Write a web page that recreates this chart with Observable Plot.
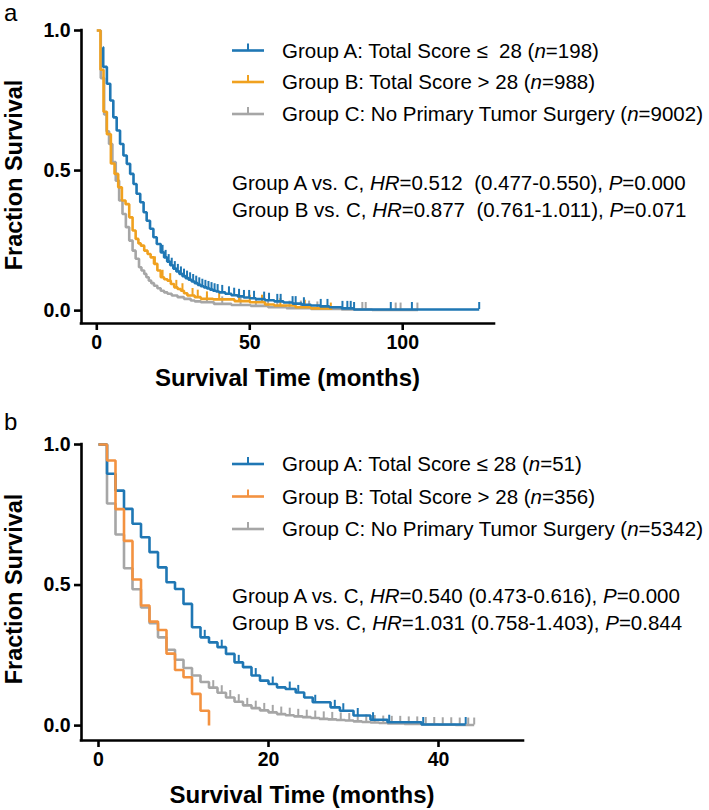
<!DOCTYPE html>
<html>
<head>
<meta charset="utf-8">
<script src="https://cdn.jsdelivr.net/npm/d3@7"></script>
<script src="https://cdn.jsdelivr.net/npm/@observablehq/plot@0.6"></script>
<style>
  html, body { margin: 0; padding: 0; background: #fff; }
  #wrap { position: relative; width: 709px; height: 810px; background: #fff; overflow: hidden; }
  #wrap > svg { position: absolute; left: 0; }
  .axis-text text { font-size: 19.5px; font-weight: bold; }
</style>
</head>
<body>
<div id="wrap"></div>
<script>
// ---------------- Panel a data ----------------
const aTimesA = [2, 2.1, 3.3, 4.4, 5.4, 6.5, 7.6, 8.7, 9.8, 10.9, 12, 13, 14.2, 15.3, 16.3, 17.4, 18.5, 19.6, 20.9, 22, 23, 24, 25, 26, 27, 28, 29, 30, 31, 32, 33, 34, 35, 36, 37, 38, 39, 40, 42, 44, 46, 48, 50, 52, 55, 58, 61, 64, 67, 70, 73, 76, 80, 84, 125];
const aSurvA  = [0.94, 0.87, 0.81, 0.75, 0.69, 0.643, 0.595, 0.554, 0.524, 0.488, 0.452, 0.417, 0.387, 0.351, 0.321, 0.292, 0.262, 0.238, 0.208, 0.19, 0.175, 0.162, 0.15, 0.14, 0.131, 0.123, 0.116, 0.11, 0.104, 0.098, 0.092, 0.087, 0.083, 0.079, 0.075, 0.071, 0.068, 0.065, 0.06, 0.055, 0.051, 0.047, 0.044, 0.041, 0.037, 0.033, 0.029, 0.025, 0.021, 0.018, 0.015, 0.012, 0.008, 0.004, 0.004];
const aCensA  = [21.5, 22.5, 23.5, 24.5, 25.5, 26.5, 27.5, 28.5, 29.5, 30.5, 31.5, 32.5, 33.5, 34.5, 35.5, 36.5, 37.5, 38.5, 39.5, 41, 43.2, 44.9, 46.5, 48.1, 49.8, 51.4, 54.7, 56.3, 59, 60.1, 64, 65, 67.7, 73.2, 75.4, 80.3, 81.9, 83, 84.1, 96.1, 103, 125];

const aTimesB = [0, 1.2, 2.2, 3.3, 4.6, 5.8, 7, 8.2, 9.4, 10.6, 11.7, 12.7, 13.6, 14.4, 15.5, 16.6, 17.6, 18.7, 19.8, 20.9, 22, 23.1, 24.2, 25.3, 26.4, 27.5, 28.5, 29.6, 32, 34, 38, 45, 50, 55, 58, 65, 70, 76.5];
const aSurvB  = [1, 0.86, 0.71, 0.63, 0.525, 0.488, 0.44, 0.393, 0.38, 0.333, 0.286, 0.256, 0.24, 0.232, 0.214, 0.202, 0.19, 0.167, 0.143, 0.119, 0.112, 0.107, 0.095, 0.083, 0.077, 0.071, 0.062, 0.054, 0.048, 0.042, 0.04, 0.034, 0.03, 0.022, 0.018, 0.012, 0.008, 0.002];
const aCensB  = [19, 21.5, 24, 26, 28, 31.3, 33, 36, 40, 46.5, 50, 54, 60, 68, 76.5];

const aTimesC = [0, 1.3, 2.4, 3.2, 4.0, 5.1, 6.2, 7.3, 8.4, 9.5, 10.6, 11.7, 12.7, 13.8, 14.6, 15.5, 16.2, 17, 17.8, 18.7, 19.8, 20.9, 22, 23.1, 24.5, 26.4, 28.5, 30.7, 32, 34, 38.3, 44, 50.3, 56, 62, 70, 80, 90, 105];
const aSurvC  = [1, 0.83, 0.70, 0.64, 0.595, 0.53, 0.464, 0.393, 0.345, 0.298, 0.25, 0.214, 0.185, 0.155, 0.143, 0.131, 0.119, 0.107, 0.098, 0.089, 0.08, 0.071, 0.065, 0.06, 0.054, 0.048, 0.042, 0.036, 0.033, 0.03, 0.024, 0.02, 0.017, 0.012, 0.009, 0.006, 0.004, 0.002, 0.002];
const aCensC  = [36, 41, 47, 52, 56, 59, 63, 66.7, 69.4, 72.1, 86.8, 87.9, 97.7, 99.3, 104.8];

const aXTicks = [0, 50, 100];
const aYTicks = [0, 0.5, 1];
const aLegend = [
  ["Group A: Total Score ≤  28 (", "n", "=198)"],
  ["Group B: Total Score > 28 (", "n", "=988)"],
  ["Group C: No Primary Tumor Surgery (", "n", "=9002)"]
];
const aStats = [
  ["Group A vs. C, ", "HR", "=0.512  (0.477-0.550), ", "P", "=0.000"],
  ["Group B vs. C, ", "HR", "=0.877  (0.761-1.011), ", "P", "=0.071"]
];

// ---------------- Panel b data ----------------
const bTimesA = [0, 1, 2, 3, 4, 5, 6, 7, 8, 9, 10, 11, 12, 13, 14, 15, 16, 17, 18, 19, 20, 21, 22, 23.2, 24.2, 25.2, 27.3, 28.4, 30, 32, 34, 38, 43.2];
const bSurvA  = [1, 0.896, 0.836, 0.771, 0.718, 0.67, 0.617, 0.563, 0.51, 0.486, 0.433, 0.35, 0.314, 0.296, 0.279, 0.255, 0.225, 0.208, 0.178, 0.16, 0.148, 0.136, 0.13, 0.118, 0.1, 0.083, 0.065, 0.053, 0.036, 0.021, 0.012, 0.004, 0.004];
const bCensA  = [12.5, 14.5, 16.5, 18.5, 20.5, 22.5, 23.5, 25.5, 27.8, 28.8, 30.5, 32.3, 34.2, 38.2, 43.2];

const bTimesB = [0, 1, 2, 3, 4, 5, 6, 7, 8, 9, 10, 11, 12, 13];
const bSurvB  = [1, 0.943, 0.77, 0.657, 0.52, 0.427, 0.37, 0.34, 0.256, 0.198, 0.172, 0.113, 0.053, 0];
const bCensB  = [];

const bTimesC = [0, 1, 2, 3, 4, 5, 6, 7, 8, 9, 10, 11, 12, 13, 14, 15, 16, 17, 18, 19, 20, 21, 22, 23, 24, 25, 26, 27, 28, 29, 30, 31, 32, 33, 34, 36, 38, 40, 42, 44.2];
const bSurvC  = [1, 0.79, 0.68, 0.56, 0.485, 0.42, 0.364, 0.314, 0.27, 0.234, 0.205, 0.178, 0.155, 0.135, 0.117, 0.1, 0.085, 0.072, 0.062, 0.054, 0.047, 0.041, 0.037, 0.033, 0.03, 0.027, 0.024, 0.022, 0.02, 0.018, 0.015, 0.013, 0.011, 0.009, 0.008, 0.006, 0.004, 0.003, 0.002, 0.002];
const bCensC  = [13.5, 14.5, 15.5, 16.5, 17.5, 18.5, 19.5, 20.5, 21.5, 22.5, 23.5, 24.5, 25.5, 26.5, 27.5, 28.5, 29.5, 30.5, 31.5, 32.5, 33.5, 34.5, 35.5, 36.5, 37.5, 38.5, 39.5, 40.5, 41.5, 42.5, 43.5, 44.2];

const bXTicks = [0, 20, 40];
const bYTicks = [0, 0.5, 1];
const bLegend = [
  ["Group A: Total Score ≤ 28 (", "n", "=51)"],
  ["Group B: Total Score > 28 (", "n", "=356)"],
  ["Group C: No Primary Tumor Surgery (", "n", "=5342)"]
];
const bStats = [
  ["Group A vs. C, ", "HR", "=0.540 (0.473-0.616), ", "P", "=0.000"],
  ["Group B vs. C, ", "HR", "=1.031 (0.758-1.403), ", "P", "=0.844"]
];

const xTitle = "Survival Time (months)";
const yTitle = "Fraction Survival";

// ---------------- Styles ----------------
const FONT = '"Liberation Sans", Arial, Helvetica, sans-serif';
const BLUE = "#1f77b4";
const ORANGE_A = "#f0a11f";
const ORANGE_B = "#f39240";
const GRAY = "#a6a6a6";

function stepValue(times, surv, t) {
  const i = Math.max(0, d3.bisectRight(times, t) - 1);
  return surv[i];
}

function makePanel(cfg) {
  const marks = [];
  cfg.series.forEach(s => {
    const rows = s.times.map((t, i) => ({t, s: s.surv[i]}));
    marks.push(Plot.line(rows, {x: "t", y: "s", curve: "step-after", stroke: s.color, strokeWidth: 2.6, strokeLinejoin: "miter", strokeLinecap: "butt"}));
    const cens = s.censors.map(t => ({t, s: stepValue(s.times, s.surv, t)}));
    if (cens.length) marks.push(Plot.ruleX(cens, {x: "t", y1: "s", y2: "s", insetTop: -7, stroke: s.color, strokeWidth: 2}));
  });
  marks.push(Plot.ruleY([cfg.yDomain[0]], {x1: cfg.xDomain[0], x2: cfg.xDomain[1], stroke: "#000", strokeWidth: 2.6, strokeLinecap: "square"}));
  marks.push(Plot.ruleX([cfg.xDomain[0]], {y1: cfg.yDomain[0], y2: cfg.yDomain[1], stroke: "#000", strokeWidth: 2.6, strokeLinecap: "square"}));
  marks.push(Plot.axisX(cfg.xTicks, {tickSize: 7, tickPadding: 5, strokeWidth: 2.6, tickFormat: d => String(d), label: null, fontSize: 19.5, fontWeight: "bold", fill: "#000", className: "axis-text"}));
  marks.push(Plot.axisY(cfg.yTicks, {tickSize: 7, tickPadding: 4, strokeWidth: 2.6, tickFormat: d3.format(".1f"), label: null, fontSize: 19.5, fontWeight: "bold", fill: "#000", className: "axis-text"}));

  const svg = Plot.plot({
    width: 709,
    height: cfg.height,
    marginTop: cfg.marginTop,
    marginBottom: cfg.marginBottom,
    marginLeft: cfg.marginLeft,
    marginRight: cfg.marginRight,
    x: {domain: cfg.xDomain},
    y: {domain: cfg.yDomain},
    style: {fontFamily: FONT, fontSize: "19.5px", fontWeight: "bold", color: "#000", background: "transparent", overflow: "visible"},
    marks
  });
  svg.style.top = cfg.top + "px";

  const g = d3.select(svg).append("g").attr("font-family", FONT).attr("fill", "#000").attr("font-weight", "normal");
  g.append("text").attr("x", 4).attr("y", cfg.letterY).attr("font-size", 24).attr("text-anchor", "start").text(cfg.letter);

  g.append("text")
    .attr("transform", `translate(22,${cfg.yTitleY}) rotate(-90)`)
    .attr("text-anchor", "middle").attr("font-size", 23.5).attr("font-weight", "bold")
    .text(yTitle);
  g.append("text")
    .attr("x", (cfg.marginLeft + 709 - cfg.marginRight) / 2).attr("y", cfg.xTitleY)
    .attr("text-anchor", "middle").attr("font-size", 24).attr("font-weight", "bold")
    .text(xTitle);

  cfg.legend.forEach((parts, i) => {
    const cy = cfg.legendY[i];
    const color = cfg.series.find(s => s.key === ["A", "B", "C"][i]).color;
    g.append("line").attr("x1", 232).attr("x2", 264).attr("y1", cy).attr("y2", cy)
      .attr("stroke", color).attr("stroke-width", 2.6);
    g.append("line").attr("x1", 248).attr("x2", 248).attr("y1", cy).attr("y2", cy - 7)
      .attr("stroke", color).attr("stroke-width", 2);
    const t = g.append("text").attr("x", 282).attr("y", cy + 7.3).attr("font-size", 20.5)
      .attr("text-anchor", "start").style("white-space", "pre");
    parts.forEach((p, j) => t.append("tspan").attr("font-style", j % 2 ? "italic" : "normal").text(p));
  });

  cfg.stats.forEach((parts, i) => {
    const t = g.append("text").attr("x", 232).attr("y", cfg.statsY[i]).attr("font-size", 20.5)
      .attr("text-anchor", "start").style("white-space", "pre");
    parts.forEach((p, j) => t.append("tspan").attr("font-style", j % 2 ? "italic" : "normal").text(p));
  });

  return svg;
}

const wrap = document.getElementById("wrap");

wrap.appendChild(makePanel({
  top: 0, height: 390, marginTop: 30, marginBottom: 67, marginLeft: 81, marginRight: 215,
  xDomain: [-5, 130], yDomain: [-0.046, 1],
  xTicks: aXTicks, yTicks: aYTicks,
  series: [
    {key: "C", times: aTimesC, surv: aSurvC, censors: aCensC, color: GRAY},
    {key: "B", times: aTimesB, surv: aSurvB, censors: aCensB, color: ORANGE_A},
    {key: "A", times: aTimesA, surv: aSurvA, censors: aCensA, color: BLUE}
  ],
  legend: aLegend, legendY: [50.5, 82, 114],
  stats: aStats, statsY: [190, 216.7],
  letter: "a", letterY: 21, yTitleY: 175, xTitleY: 386
}));

wrap.appendChild(makePanel({
  top: 390, height: 420, marginTop: 54, marginBottom: 70, marginLeft: 81, marginRight: 186,
  xDomain: [-2, 50], yDomain: [-0.053, 1],
  xTicks: bXTicks, yTicks: bYTicks,
  series: [
    {key: "C", times: bTimesC, surv: bSurvC, censors: bCensC, color: GRAY},
    {key: "A", times: bTimesA, surv: bSurvA, censors: bCensA, color: BLUE},
    {key: "B", times: bTimesB, surv: bSurvB, censors: bCensB, color: ORANGE_B}
  ],
  legend: bLegend, legendY: [74, 106.5, 139],
  stats: bStats, statsY: [213, 240],
  letter: "b", letterY: 40, yTitleY: 199, xTitleY: 413
}));
</script>
</body>
</html>
